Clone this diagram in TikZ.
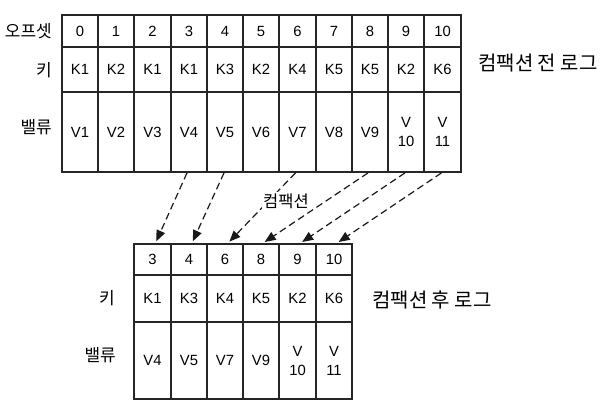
\documentclass[tikz,border=0pt]{standalone}
\usepackage{fontspec}
\setmainfont{Liberation Sans}
\newfontfamily\kr{Noto Sans CJK KR}
\usetikzlibrary{arrows.meta}
\begin{document}
\begin{tikzpicture}[x=1pt,y=-1pt,
  cell/.style={draw=black!85, line width=1.8pt, inner sep=0pt,
    font=\fontsize{14.8}{19}\selectfont, align=center},
  rowlbl/.style={inner sep=0pt, anchor=east, font=\kr\fontsize{17}{19}\selectfont},
  loglbl/.style={inner sep=0pt, anchor=west, font=\kr\fontsize{20}{22}\selectfont},
  conn/.style={line width=1.2pt, dash pattern=on 7pt off 4pt, draw=black!90,
    -{Triangle[length=11pt,width=9pt]}, shorten >=2pt}]
\useasboundingbox (0,0) rectangle (602,412);

% top table
\foreach \a/\b/\t [count=\i from 0] in {62/98/0,98/134/1,134/171/2,171/207/3,207/243/4,243/279/5,279/316/6,316/352/7,352/388/8,388/424/9,424/461/10}
  \node[cell, minimum width={(\b-\a)*1pt}, minimum height=32pt] (th\i) at ({(\a+\b)/2}, 31) {\t};
\foreach \a/\b/\t [count=\i from 0] in {62/98/K1,98/134/K2,134/171/K1,171/207/K1,207/243/K3,243/279/K2,279/316/K4,316/352/K5,352/388/K5,388/424/K2,424/461/K6}
  \node[cell, minimum width={(\b-\a)*1pt}, minimum height=45pt] (tk\i) at ({(\a+\b)/2}, 69.5) {\t};
\foreach \a/\b/\t [count=\i from 0] in {62/98/V1,98/134/V2,134/171/V3,171/207/V4,207/243/V5,243/279/V6,279/316/V7,316/352/V8,352/388/V9,388/424/{V\\10},424/461/{V\\11}}
  \node[cell, minimum width={(\b-\a)*1pt}, minimum height=80pt] (tv\i) at ({(\a+\b)/2}, 132) {\t};

% bottom table
\foreach \a/\b/\t [count=\i from 0] in {134/171/3,171/207/4,207/243/6,243/279/8,279/316/9,316/352/10}
  \node[cell, minimum width={(\b-\a)*1pt}, minimum height=31pt] (bh\i) at ({(\a+\b)/2}, 259.5) {\t};
\foreach \a/\b/\t [count=\i from 0] in {134/171/K1,171/207/K3,207/243/K4,243/279/K5,279/316/K2,316/352/K6}
  \node[cell, minimum width={(\b-\a)*1pt}, minimum height=47pt] (bk\i) at ({(\a+\b)/2}, 298.5) {\t};
\foreach \a/\b/\t [count=\i from 0] in {134/171/V4,171/207/V5,207/243/V7,243/279/V9,279/316/{V\\10},316/352/{V\\11}}
  \node[cell, minimum width={(\b-\a)*1pt}, minimum height=77pt] (bv\i) at ({(\a+\b)/2}, 360.5) {\t};

% row labels
\node[rowlbl] (l1) at (52,31) {오프셋};
\node[rowlbl] (l2) at (52,70) {키};
\node[rowlbl] (l3) at (52,127) {밸류};
\node[rowlbl] (l4) at (115,298) {키};
\node[rowlbl] (l5) at (116,355) {밸류};

\node[loglbl] (before) at (478,63) {컴팩션 전 로그};
\node[loglbl] (after) at (372,300) {컴팩션 후 로그};

% connectors
\draw[conn] ([xshift=-2pt]tv3.south) -- ([xshift=3pt]bh0.north);
\draw[conn] ([xshift=-1pt]tv4.south) -- ([xshift=3pt]bh1.north);
\draw[conn] ([xshift=-2pt]tv6.south) -- ([xshift=3pt]bh2.north);
\draw[conn] ([xshift=-2pt]tv8.south) -- ([xshift=2pt]bh3.north);
\draw[conn] ([xshift=-1pt]tv9.south) -- ([xshift=3pt]bh4.north);
\draw[conn] ([xshift=-1pt]tv10.south) -- ([xshift=3pt]bh5.north);

\node[fill=white, inner sep=1.5pt, font=\kr\fontsize{16.5}{18}\selectfont] (cmp) at (286,201) {컴팩션};
\end{tikzpicture}
\end{document}
